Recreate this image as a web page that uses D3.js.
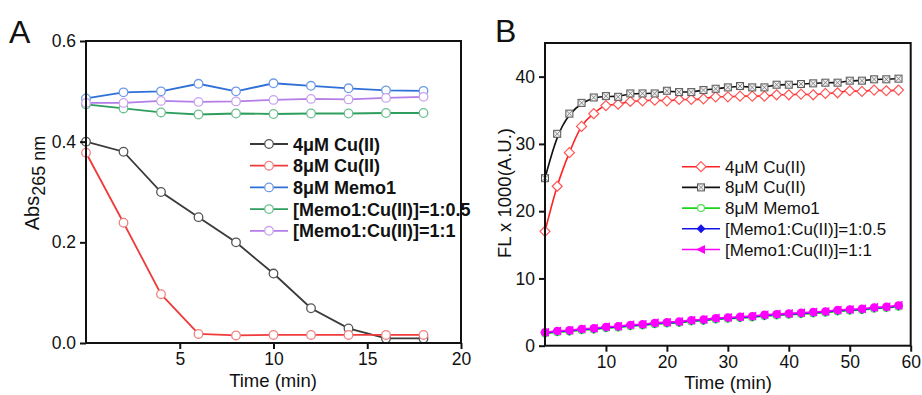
<!DOCTYPE html>
<html>
<head>
<meta charset="utf-8">
<script src="https://cdn.jsdelivr.net/npm/d3@7"></script>
<style>
  body { margin: 0; background: #fff; }
  text { font-family: "Liberation Sans", Arial, sans-serif; fill: #111; font-weight: normal; }
</style>
</head>
<body>
<div id="chart"></div>
<script>
// Panneau A : absorbance à 265 nm
const timeA = [0, 2, 4, 6, 8, 10, 12, 14, 16, 18];
const absCu4   = [0.40, 0.38, 0.30, 0.25, 0.20, 0.138, 0.069, 0.029, 0.009, 0.009];
const absCu8   = [0.378, 0.239, 0.097, 0.018, 0.015, 0.016, 0.016, 0.016, 0.016, 0.016];
const absMemo  = [0.486, 0.498, 0.500, 0.515, 0.500, 0.516, 0.511, 0.506, 0.502, 0.501];
const absR05   = [0.474, 0.466, 0.458, 0.454, 0.456, 0.455, 0.456, 0.456, 0.457, 0.457];
const absR1    = [0.477, 0.477, 0.481, 0.479, 0.480, 0.483, 0.485, 0.484, 0.487, 0.489];
const labelsA  = ['4μM Cu(II)', '8μM Cu(II)', '8μM Memo1', '[Memo1:Cu(II)]=1:0.5', '[Memo1:Cu(II)]=1:1'];
const ticksAx  = [5, 10, 15, 20];
const ticksAy  = [0, 0.2, 0.4, 0.6];

// Panneau B : fluorescence
const timeB = [0, 2, 4, 6, 8, 10, 12, 14, 16, 18, 20, 22, 24, 26, 28, 30, 32, 34, 36, 38, 40, 42, 44, 46, 48, 50, 52, 54, 56, 58];
const flCu4  = [17.0, 23.7, 28.7, 32.6, 34.5, 35.7, 35.9, 36.3, 36.4, 36.5, 36.4, 36.6, 36.6, 36.7, 37.0, 37.0, 37.1, 37.1, 37.1, 37.3, 37.3, 37.4, 37.3, 37.5, 37.6, 37.9, 37.8, 38.0, 37.9, 38.0];
const flCu8  = [24.9, 31.5, 34.5, 36.1, 36.9, 37.1, 37.0, 37.5, 37.5, 37.5, 37.9, 37.7, 37.7, 38.0, 38.2, 38.4, 38.6, 38.4, 38.4, 38.8, 38.8, 38.9, 39.0, 39.1, 39.1, 39.4, 39.4, 39.6, 39.6, 39.7];
const flMemo = [1.8, 2.0, 2.1, 2.3, 2.4, 2.6, 2.7, 2.9, 3.0, 3.2, 3.3, 3.4, 3.6, 3.7, 3.9, 4.0, 4.1, 4.2, 4.4, 4.5, 4.6, 4.7, 4.8, 4.9, 5.1, 5.2, 5.3, 5.5, 5.6, 5.8];
const flR05  = [1.9, 2.1, 2.2, 2.4, 2.5, 2.7, 2.8, 3.0, 3.1, 3.3, 3.4, 3.5, 3.7, 3.8, 4.0, 4.1, 4.2, 4.3, 4.5, 4.6, 4.7, 4.8, 4.9, 5.0, 5.2, 5.3, 5.4, 5.6, 5.7, 5.9];
const flR1   = [2.0, 2.2, 2.3, 2.5, 2.6, 2.8, 2.9, 3.1, 3.2, 3.4, 3.5, 3.6, 3.8, 3.9, 4.1, 4.2, 4.3, 4.4, 4.6, 4.7, 4.8, 4.9, 5.0, 5.1, 5.3, 5.4, 5.5, 5.7, 5.8, 6.0];
const labelsB = ['4μM Cu(II)', '8μM Cu(II)', '8μM Memo1', '[Memo1:Cu(II)]=1:0.5', '[Memo1:Cu(II)]=1:1'];
const ticksBx = [10, 20, 30, 40, 50, 60];
const ticksBy = [0, 10, 20, 30, 40];

const W = 922, H = 395;
const FONT = '"Liberation Sans", Arial, sans-serif';
const svg = d3.select('#chart').append('svg').attr('width', W).attr('height', H);

/**
 * Cadre + axes communs aux deux panneaux.
 */
function drawFrame(g, x, y, xt, yt, yfmt) {
  const [x0, x1] = x.range();
  const [y0, y1] = y.range();
  g.append('g').attr('transform', `translate(0,${y0})`)
    .call(d3.axisBottom(x).tickValues(xt).tickSize(6).tickPadding(4).tickSizeOuter(0))
    .call(a => a.select('.domain').remove())
    .call(a => a.selectAll('line').attr('stroke', '#111').attr('stroke-width', 2))
    .call(a => a.selectAll('text').attr('font-size', 17.5).attr('fill', '#222').style('font-family', FONT));
  g.append('g').attr('transform', `translate(${x0},0)`)
    .call(d3.axisLeft(y).tickValues(yt).tickFormat(yfmt).tickSize(6).tickPadding(4).tickSizeOuter(0))
    .call(a => a.select('.domain').remove())
    .call(a => a.selectAll('line').attr('stroke', '#111').attr('stroke-width', 2))
    .call(a => a.selectAll('text').attr('font-size', 17.5).attr('fill', '#222').style('font-family', FONT));
  g.append('rect')
    .attr('x', x0).attr('y', y1).attr('width', x1 - x0).attr('height', y0 - y1)
    .attr('fill', 'none').attr('stroke', '#111').attr('stroke-width', 2);
}

// ---------- Panneau A ----------
const xA = d3.scaleLinear().domain([0, 20]).range([86, 461]);
const yA = d3.scaleLinear().domain([0, 0.6]).range([343, 41]);
const gA = svg.append('g');

const seriesA = [
  { vals: absCu4,  line: '#3a3a3a', mk: '#555' },
  { vals: absCu8,  line: '#ef3b3b', mk: '#f08080' },
  { vals: absMemo, line: '#2f6fd8', mk: '#6f9ae6' },
  { vals: absR05,  line: '#2e9e5e', mk: '#6cc08e' },
  { vals: absR1,   line: '#b47ee8', mk: '#c8a2ef' }
];

const lineA = d3.line().x((d, i) => xA(timeA[i])).y(d => yA(d));
seriesA.forEach(s => {
  gA.append('path').attr('d', lineA(s.vals))
    .attr('fill', 'none').attr('stroke', s.line).attr('stroke-width', 1.8);
  gA.selectAll(null).data(s.vals).join('circle')
    .attr('cx', (d, i) => xA(timeA[i])).attr('cy', d => yA(d)).attr('r', 4.3)
    .attr('fill', '#fff').attr('stroke', s.mk).attr('stroke-width', 1.3);
});

drawFrame(gA, xA, yA, ticksAx, ticksAy, d3.format('.1f'));

// légende A
seriesA.forEach((s, i) => {
  const ly = 144 + i * 21.7;
  gA.append('line').attr('x1', 250).attr('x2', 288).attr('y1', ly).attr('y2', ly)
    .attr('stroke', s.line).attr('stroke-width', 1.8);
  gA.append('circle').attr('cx', 269).attr('cy', ly).attr('r', 4.3)
    .attr('fill', '#fff').attr('stroke', s.mk).attr('stroke-width', 1.3);
  gA.append('text').attr('x', 293).attr('y', ly + 6.5)
    .attr('font-size', 18).attr('font-weight', 'bold').style('font-weight', 'bold').text(labelsA[i]);
});

gA.append('text').attr('x', 273).attr('y', 387).attr('text-anchor', 'middle')
  .attr('font-size', 18.5).text('Time (min)');
const yTitleA = gA.append('text').attr('transform', 'translate(39,183) rotate(-90)')
  .attr('text-anchor', 'middle').attr('font-size', 20);
yTitleA.append('tspan').text('Abs');
yTitleA.append('tspan').attr('dy', 6).attr('font-size', 18).text('265 nm');
gA.append('text').attr('x', 9).attr('y', 43).attr('font-size', 32).text('A');

// ---------- Panneau B ----------
const xB = d3.scaleLinear().domain([0, 60]).range([545, 910.7]);
const yB = d3.scaleLinear().domain([0, 45]).range([345.7, 43]);
const gB = svg.append('g');

const seriesB = [
  { vals: flCu4,  line: '#f22', mk: '#f55', shape: 'diamond', fill: '#fff', curve: d3.curveMonotoneX },
  { vals: flCu8,  line: '#111', mk: '#666', shape: 'xsquare', fill: '#ddd', curve: d3.curveBasis },
  { vals: flMemo, line: '#1bd41b', mk: '#55e055', shape: 'circle', fill: '#fff', curve: d3.curveLinear },
  { vals: flR05,  line: '#1515e8', mk: '#1515e8', shape: 'diamondfill', fill: '#1515e8', curve: d3.curveLinear },
  { vals: flR1,   line: '#f0f', mk: '#e010e0', shape: 'triangle', fill: '#f0f', curve: d3.curveLinear }
];

/**
 * Dessine un marqueur de la série B au point (cx, cy).
 */
function drawMarker(g, s, cx, cy) {
  if (s.shape === 'diamond') {
    g.append('path').attr('d', `M${cx},${cy - 5}L${cx + 5},${cy}L${cx},${cy + 5}L${cx - 5},${cy}Z`)
      .attr('fill', '#fff').attr('stroke', s.mk).attr('stroke-width', 1.2);
  } else if (s.shape === 'xsquare') {
    g.append('rect').attr('x', cx - 3.5).attr('y', cy - 3.5).attr('width', 7).attr('height', 7)
      .attr('fill', '#eee').attr('stroke', '#555').attr('stroke-width', 1);
    g.append('path').attr('d', `M${cx - 3.5},${cy - 3.5}L${cx + 3.5},${cy + 3.5}M${cx + 3.5},${cy - 3.5}L${cx - 3.5},${cy + 3.5}`)
      .attr('stroke', '#777').attr('stroke-width', 0.8);
  } else if (s.shape === 'circle') {
    g.append('circle').attr('cx', cx).attr('cy', cy).attr('r', 3.5)
      .attr('fill', '#fff').attr('stroke', s.mk).attr('stroke-width', 1.2);
  } else if (s.shape === 'diamondfill') {
    g.append('path').attr('d', `M${cx},${cy - 4.5}L${cx + 4.5},${cy}L${cx},${cy + 4.5}L${cx - 4.5},${cy}Z`)
      .attr('fill', s.fill);
  } else {
    g.append('path').attr('d', `M${cx - 5},${cy}L${cx + 4},${cy - 4.5}L${cx + 4},${cy + 4.5}Z`)
      .attr('fill', s.fill);
  }
}

seriesB.forEach(s => {
  const ln = d3.line().x((d, i) => xB(timeB[i])).y(d => yB(d)).curve(s.curve);
  gB.append('path').attr('d', ln(s.vals))
    .attr('fill', 'none').attr('stroke', s.line).attr('stroke-width', 1.6);
});
seriesB.forEach(s => {
  s.vals.forEach((v, i) => {
    drawMarker(gB, s, xB(timeB[i]), yB(v));
    // les points 1:1 du tracé apparaissent ronds et pleins
    if (s.shape === 'triangle') {
      gB.append('circle').attr('cx', xB(timeB[i])).attr('cy', yB(v)).attr('r', 4.2).attr('fill', s.fill);
    }
  });
});

drawFrame(gB, xB, yB, ticksBx, ticksBy, d3.format('d'));

// légende B
seriesB.forEach((s, i) => {
  const ly = 166.7 + i * 20.7;
  gB.append('line').attr('x1', 682).attr('x2', 720).attr('y1', ly).attr('y2', ly)
    .attr('stroke', s.line).attr('stroke-width', 1.6);
  drawMarker(gB, s, 701, ly);
  gB.append('text').attr('x', 725).attr('y', ly + 6)
    .attr('font-size', 17).text(labelsB[i]);
});

gB.append('text').attr('x', 728).attr('y', 389).attr('text-anchor', 'middle')
  .attr('font-size', 18.5).text('Time (min)');
gB.append('text').attr('transform', 'translate(511,193) rotate(-90)')
  .attr('text-anchor', 'middle').attr('font-size', 18.5).text('FL x 1000(A.U.)');
gB.append('text').attr('x', 495).attr('y', 42).attr('font-size', 32).text('B');
</script>
</body>
</html>
